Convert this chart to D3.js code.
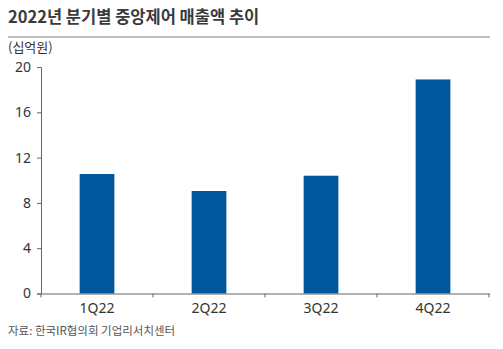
<!DOCTYPE html>
<html><head><meta charset="utf-8">
<script src="https://cdn.jsdelivr.net/npm/d3@7"></script>
<style>
body{margin:0;background:#fff;}
svg{display:block;font-family:"Noto Sans CJK KR","Noto Sans",sans-serif;}
</style></head>
<body><svg id="c" width="503" height="349"></svg>
<script>
const categories = ["1Q22","2Q22","3Q22","4Q22"];
const values = [10.55, 9.05, 10.4, 18.9];
const yTicks = [0,4,8,12,16,20];
const title = "2022년 분기별 중앙제어 매출액 추이";
const unit = "(십억원)";
const source = "자료: 한국IR협의회 기업리서치센터";

(function(){
const svg = d3.select("#c");
const mLeft = 41, mRight = 489, mTop = 67, mBottom = 293.5;
const x = d3.scaleBand().domain(categories).range([mLeft, mRight]).paddingInner(0.69).paddingOuter(0.345);
const y = d3.scaleLinear().domain([0,20]).range([mBottom, mTop]);

svg.append("text").attr("x",8).attr("y",23).attr("font-size",16.5).attr("font-weight","bold")
  .attr("fill","#3a3a3a").text(title);
svg.append("line").attr("x1",8).attr("x2",490).attr("y1",37).attr("y2",37).attr("stroke","#7a7a7a").attr("stroke-width",1);
svg.append("text").attr("x",8).attr("y",52).attr("font-size",13).attr("fill","#333").text(unit);

svg.selectAll("rect.bar").data(values).join("rect").attr("class","bar")
  .attr("x",(d,i)=>x(categories[i])).attr("width",x.bandwidth())
  .attr("y",d=>y(d)).attr("height",d=>mBottom-y(d)).attr("fill","#00579c");

const ya = svg.append("g").attr("transform",`translate(${mLeft},0)`)
  .call(d3.axisLeft(y).tickValues(yTicks).tickSize(4).tickPadding(6));
const xa = svg.append("g").attr("transform",`translate(0,${mBottom})`)
  .call(d3.axisBottom(x).tickSize(0).tickPadding(10));
[ya,xa].forEach(g=>{
  g.select(".domain").attr("stroke","#666");
  g.selectAll(".tick line").attr("stroke","#666");
  g.selectAll("text").attr("font-size",14).attr("fill","#333").attr("font-family","\"Noto Sans\",sans-serif");
});
const bounds = categories.map(c=>x(c)-x.step()*x.paddingInner()/2).concat([mRight]);
xa.selectAll("line.bt").data(bounds).join("line").attr("class","bt")
  .attr("x1",d=>d).attr("x2",d=>d).attr("y1",0).attr("y2",4).attr("stroke","#666");

svg.append("text").attr("x",8).attr("y",335).attr("font-size",11.5).attr("fill","#555").text(source);
})();
</script></body></html>
